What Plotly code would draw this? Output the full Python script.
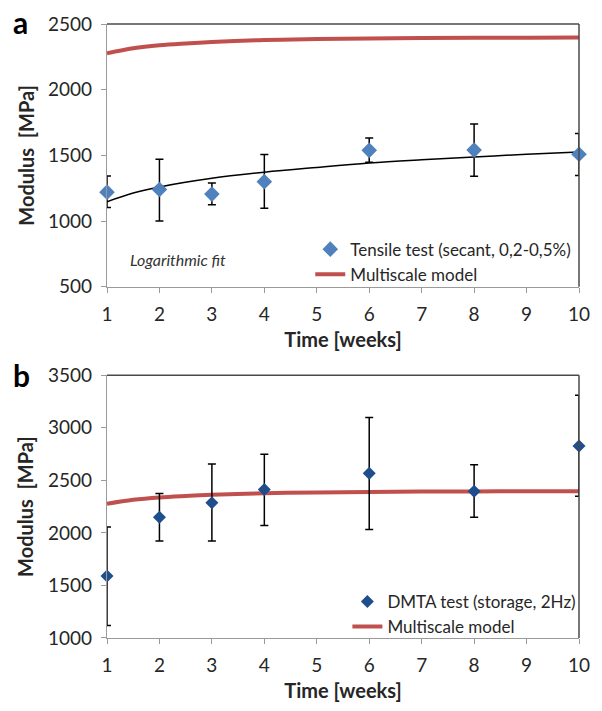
import plotly.graph_objects as go

# ---------------- data ----------------
weeks = [1, 2, 3, 4, 6, 8, 10]

tensile = [1220, 1240, 1205, 1300, 1538, 1540, 1508]
tensile_upper = [1343, 1470, 1289, 1507, 1632, 1738, 1666]
tensile_lower = [1103, 1000, 1124, 1097, 1448, 1341, 1346]

dmta = [1591, 2148, 2288, 2412, 2567, 2396, 2828]
dmta_upper = [2057, 2375, 2655, 2748, 3099, 2648, 3310]
dmta_lower = [1118, 1924, 1924, 2070, 2033, 2148, 2348]

model_x = [1, 1.5, 2, 2.5, 3, 4, 5, 6, 7, 8, 9, 10]
model_y = [2277, 2315, 2338, 2352, 2363, 2378, 2385, 2390, 2393, 2395, 2396, 2397]

fit_x = [1, 1.5, 2, 3, 4, 5, 6, 7, 8, 9, 10]
fit_y = [1147, 1213, 1260, 1326, 1372, 1408, 1441, 1466, 1488, 1508, 1525]

x_ticks = [1, 2, 3, 4, 5, 6, 7, 8, 9, 10]

# ---------------- styles ----------------
FONT = "Lato"
RED = "#C0504D"
LIGHT_BLUE = "#4F81BD"
DARK_BLUE = "#1F4E8C"
TXT = "#262626"

PLOT_W, PLOT_H = 483, 624


def px_x(px):
    return (px - 107) / PLOT_W


def px_y(py):
    return (645 - py) / PLOT_H


fig = go.Figure()


def err(vals, upper, lower):
    return ([u - v for u, v in zip(upper, vals)], [v - l for v, l in zip(vals, lower)])


tp, tm = err(tensile, tensile_upper, tensile_lower)
dp, dm = err(dmta, dmta_upper, dmta_lower)

# ---- panel a ----
fig.add_trace(go.Scatter(
    x=fit_x, y=fit_y, mode="lines", line=dict(color="black", width=1.5, shape="spline"),
    showlegend=False, xaxis="x", yaxis="y", hoverinfo="skip"))
fig.add_trace(go.Scatter(
    x=model_x, y=model_y, mode="lines", line=dict(color=RED, width=4, shape="spline"),
    name="Multiscale model", legend="legend", legendrank=2, xaxis="x", yaxis="y"))
fig.add_trace(go.Scatter(
    x=weeks, y=tensile, mode="markers",
    marker=dict(symbol="diamond", size=12, color=LIGHT_BLUE),
    error_y=dict(type="data", symmetric=False, array=tp, arrayminus=tm,
                 color="black", thickness=1.5, width=4),
    name="Tensile test (secant, 0,2-0,5%)", legend="legend", legendrank=1,
    cliponaxis=False, xaxis="x", yaxis="y"))

# ---- panel b ----
fig.add_trace(go.Scatter(
    x=model_x, y=model_y, mode="lines", line=dict(color=RED, width=4, shape="spline"),
    name="Multiscale model", legend="legend2", legendrank=2, xaxis="x2", yaxis="y2"))
fig.add_trace(go.Scatter(
    x=weeks, y=dmta, mode="markers",
    marker=dict(symbol="diamond", size=10, color=DARK_BLUE),
    error_y=dict(type="data", symmetric=False, array=dp, arrayminus=dm,
                 color="black", thickness=1.5, width=4),
    name="DMTA test (storage, 2Hz)", legend="legend2", legendrank=1,
    cliponaxis=False, xaxis="x2", yaxis="y2"))

axis_common = dict(
    showgrid=False, zeroline=False, showline=True, linecolor="#9a9a9a", linewidth=1.2,
    ticks="outside", ticklen=5, tickcolor="#9a9a9a", tickwidth=1,
    tickfont=dict(family=FONT, size=19, color=TXT), ticklabelstandoff=5,
    ticklabeloverflow="allow",
)

xa = dict(axis_common, range=[1, 10], tickmode="array", tickvals=x_ticks,
          title=dict(text="<b>Time [weeks]</b>", font=dict(family=FONT, size=20, color=TXT), standoff=9))
ytitle = dict(text="<b>Modulus  [MPa]</b>", font=dict(family=FONT, size=20, color=TXT), standoff=8)

leg_font = dict(family=FONT, size=17, color=TXT)

fig.update_layout(
    width=602, height=711,
    margin=dict(l=107, r=12, t=21, b=66),
    paper_bgcolor="white", plot_bgcolor="white",
    font=dict(family=FONT, color=TXT),
    xaxis=dict(xa, domain=[0, 1], anchor="y"),
    yaxis=dict(axis_common, domain=[px_y(288), 1.0], range=[500, 2500], dtick=500, anchor="x",
               title=ytitle),
    xaxis2=dict(xa, domain=[0, 1], anchor="y2"),
    yaxis2=dict(axis_common, domain=[0, px_y(378)], range=[1000, 3500], dtick=500, anchor="x2",
                title=ytitle),
    legend=dict(x=px_x(315), xanchor="left", y=px_y(232), yanchor="top",
                bgcolor="rgba(0,0,0,0)", font=leg_font, tracegroupgap=0, itemwidth=30),
    legend2=dict(x=px_x(353), xanchor="left", y=px_y(590), yanchor="top",
                 bgcolor="rgba(0,0,0,0)", font=leg_font, tracegroupgap=0, itemwidth=30),
    showlegend=True,
)

# dark top/right frame lines
for xr, yr in (("x domain", "y domain"), ("x2 domain", "y2 domain")):
    fig.add_shape(type="line", xref=xr, yref=yr, x0=0, x1=1, y0=1, y1=1,
                  line=dict(color="#4a4a4a", width=1.5))
    fig.add_shape(type="line", xref=xr, yref=yr, x0=1, x1=1, y0=0, y1=1,
                  line=dict(color="#4a4a4a", width=1.5))

fig.add_annotation(text="<i>Logarithmic fit</i>", xref="x", yref="y", x=2.36, y=710,
                   showarrow=False, font=dict(family=FONT, size=16, color="#333333"))
fig.add_annotation(text="<b>a</b>", xref="paper", yref="paper", x=px_x(18),
                   y=px_y(19), showarrow=False, xanchor="center", yanchor="middle",
                   font=dict(family=FONT, size=30, color="black"))
fig.add_annotation(text="<b>b</b>", xref="paper", yref="paper", x=px_x(19),
                   y=px_y(378), showarrow=False, xanchor="center", yanchor="middle",
                   font=dict(family=FONT, size=30, color="black"))

# remove the default page margin so the 602x711 figure fills the window exactly
fig.write_html("out.html", config={"displayModeBar": False},
               post_script="document.body.style.margin='0';")
